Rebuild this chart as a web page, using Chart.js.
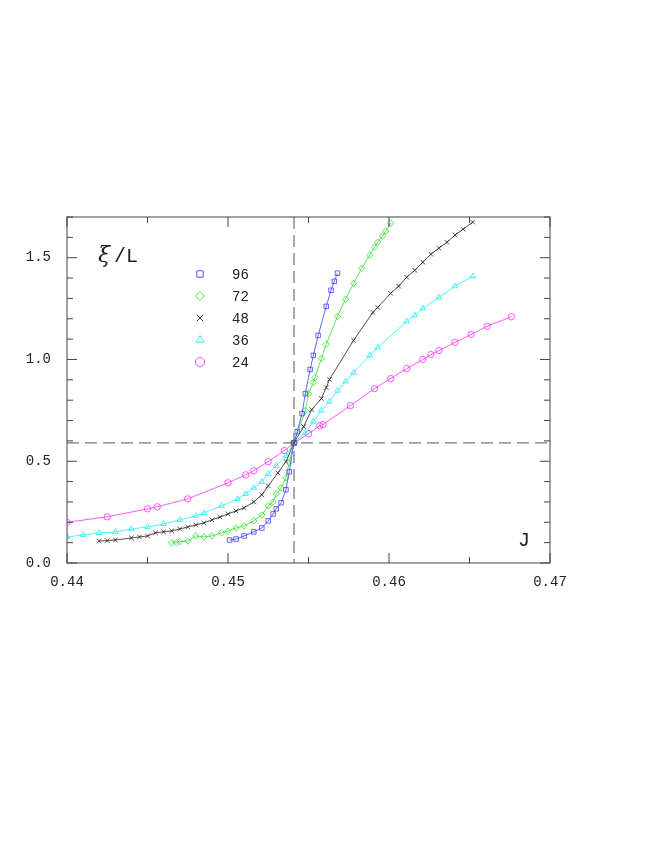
<!DOCTYPE html>
<html><head><meta charset="utf-8">
<script src="https://cdn.jsdelivr.net/npm/chart.js@4"></script>
<style>body{margin:0;background:#fff}</style>
</head><body>
<canvas id="c" width="654" height="846"></canvas>
<script>
// data
const sizes = ['96', '72', '48', '36', '24'];
const J96 = [.4501,.4505,.451,.4516,.4521,.4525,.4528,.4530,.4533,.4536,.4538,.4541,.4543,.4546,.4548,.4551,.4553,.4556,.4561,.4564,.4566,.4568];
const X96 = [.113,.118,.133,.153,.172,.207,.241,.266,.296,.360,.448,.59,.645,.734,.832,.951,1.02,1.118,1.261,1.34,1.384,1.424];
const J72 = [.4465,.4468,.447,.4475,.448,.4485,.449,.4496,.450,.4505,.451,.4516,.4521,.4525,.4528,.4530,.4533,.4536,.4538,.4541,.4548,.4550,.4553,.4554,.4558,.4561,.4568,.4573,.4578,.4583,.4588,.4591,.4593,.4596,.4598,.4601];
const X72 = [.099,.10,.105,.108,.133,.128,.133,.148,.157,.172,.182,.207,.236,.281,.30,.34,.369,.419,.493,.59,.749,.832,.887,.911,1.005,1.074,1.212,1.296,1.374,1.448,1.512,1.552,1.576,1.606,1.631,1.67];
const J48 = [.442,.4425,.443,.444,.4445,.445,.4455,.446,.4465,.447,.4475,.448,.4485,.449,.4495,.450,.4505,.451,.4516,.4521,.4525,.4531,.4536,.4541,.4547,.4552,.4558,.4561,.4563,.4578,.4590,.4593,.4601,.4606,.4611,.4616,.4621,.4626,.4631,.4636,.4641,.4646,.4652];
const X48 = [.108,.11,.113,.123,.128,.133,.148,.153,.158,.167,.177,.187,.197,.212,.226,.241,.256,.271,.300,.335,.379,.443,.498,.59,.67,.754,.808,.862,.901,1.094,1.231,1.256,1.325,1.36,1.404,1.438,1.478,1.517,1.547,1.576,1.611,1.64,1.675];
const J36 = [.440,.441,.442,.443,.444,.445,.446,.447,.448,.4485,.4496,.4506,.4511,.4516,.4521,.4525,.4530,.4536,.4541,.4548,.4553,.4558,.4563,.4568,.4573,.4578,.4588,.4593,.4611,.4616,.4621,.4631,.4641,.4652];
const X36 = [.128,.138,.148,.153,.167,.177,.192,.212,.231,.246,.281,.315,.34,.369,.399,.438,.478,.527,.59,.64,.695,.749,.793,.847,.892,.936,1.02,1.059,1.187,1.217,1.251,1.305,1.36,1.409];
const J24 = [.440,.4425,.445,.4456,.4475,.4500,.4511,.4516,.4525,.4535,.4541,.4550,.4557,.4559,.4576,.4591,.4601,.4611,.4621,.4626,.4631,.4641,.4651,.4661,.4676];
const X24 = [.20,.227,.266,.276,.315,.394,.433,.453,.498,.552,.59,.635,.675,.68,.773,.857,.906,.955,1.0,1.024,1.044,1.084,1.123,1.163,1.21];
const colors = ['#4040ff', '#30e030', '#222222', '#20f0f0', '#ff30ff'];
const styles = ['rect', 'rectRot', 'crossRot', 'triangle', 'circle'];
const xTicks = [0.44, 0.45, 0.46, 0.47];
const yTicks = [0, 0.5, 1.0, 1.5];
const Jc = 0.4541, Xc = 0.59;

const series = [[J96, X96], [J72, X72], [J48, X48], [J36, X36], [J24, X24]];

const decor = {
  id: 'decor',
  afterDraw(chart) {
    const c = chart.ctx, a = chart.chartArea, xs = chart.scales.x, ys = chart.scales.y;
    c.save();
    c.strokeStyle = '#444'; c.lineWidth = 1;
    c.strokeRect(a.left, a.top, a.right - a.left, a.bottom - a.top);
    c.beginPath();
    for (let v = 0.44; v <= 0.4701; v += 0.005) {
      const p = xs.getPixelForValue(v), len = (Math.round(v * 1000) % 10 === 0) ? 10 : 6;
      c.moveTo(p, a.bottom); c.lineTo(p, a.bottom - len);
      c.moveTo(p, a.top); c.lineTo(p, a.top + len);
    }
    for (let v = 0; v <= 1.7001; v += 0.1) {
      const p = ys.getPixelForValue(v), len = (Math.round(v * 10) % 5 === 0) ? 10 : 6;
      c.moveTo(a.left, p); c.lineTo(a.left + len, p);
      c.moveTo(a.right, p); c.lineTo(a.right - len, p);
    }
    c.stroke();
    // dashed crossing lines
    c.setLineDash([12, 6]); c.strokeStyle = '#555';
    c.beginPath();
    const px = xs.getPixelForValue(Jc), py = ys.getPixelForValue(Xc);
    c.moveTo(px, a.top); c.lineTo(px, a.bottom);
    c.moveTo(a.left, py); c.lineTo(a.right, py);
    c.stroke();
    c.setLineDash([]);
    // labels
    c.fillStyle = '#222';
    c.font = 'italic 22px "DejaVu Serif"';
    c.fillText('\u03BE', 98, 262);
    c.font = '20px "Liberation Mono"';
    c.fillText('/L', 114, 262);
    c.fillText('J', 518, 546);
    // legend
    c.font = '14px "Liberation Mono"';
    sizes.forEach((s, i) => {
      const y = 274 + i * 22;
      c.strokeStyle = colors[i];
      c.fillStyle = 'rgba(0,0,0,0)';
      c.lineWidth = 0.9;
      Chart.helpers.drawPoint(c, { pointStyle: styles[i], radius: 4.5, borderWidth: 0.9 }, 200, y);
      c.fillStyle = '#222';
      c.fillText(s, 232, y + 5);
    });
    c.restore();
  }
};

new Chart(document.getElementById('c').getContext('2d'), {
  type: 'scatter',
  data: {
    datasets: series.map((s, i) => ({
      label: sizes[i],
      data: s[0].map((j, k) => ({ x: j, y: s[1][k] })),
      showLine: true,
      borderColor: colors[i],
      backgroundColor: 'transparent',
      borderWidth: 0.8,
      pointStyle: styles[i],
      pointRadius: 3.2,
      pointBorderWidth: 0.8,
      pointBorderColor: colors[i]
    }))
  },
  options: {
    responsive: false,
    animation: false,
    layout: { padding: { top: 217, right: 104, bottom: 258, left: 0 } },
    plugins: { legend: { display: false }, tooltip: { enabled: false } },
    scales: {
      x: {
        type: 'linear', min: 0.44, max: 0.47,
        grid: { display: false }, border: { display: false },
        afterBuildTicks: s => { s.ticks = xTicks.map(v => ({ value: v })); },
        afterFit: s => { s.height = 25; },
        ticks: { color: '#222', font: { family: 'Liberation Mono', size: 14 }, callback: v => v.toFixed(2), maxRotation: 0 }
      },
      y: {
        min: 0, max: 1.7,
        grid: { display: false }, border: { display: false },
        afterBuildTicks: s => { s.ticks = yTicks.map(v => ({ value: v })); },
        afterFit: s => { s.width = 67; },
        ticks: { color: '#222', font: { family: 'Liberation Mono', size: 14 }, callback: v => v.toFixed(1), padding: 8 }
      }
    }
  },
  plugins: [decor]
});
</script>
</body></html>
